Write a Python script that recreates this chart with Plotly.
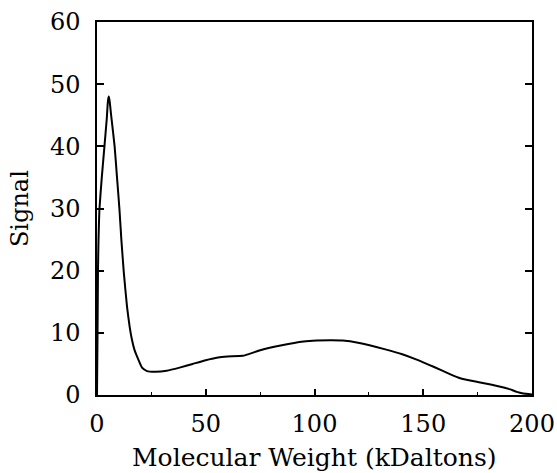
import plotly.graph_objects as go

# Molecular weight distribution (kDa) vs detector signal
mw_kda = [0, 0.25, 0.45, 0.7, 1.1, 2.2, 3.4, 4.5, 5.0, 5.4, 5.8, 6.5, 8.1,
          9.2, 10.3, 11.2, 12.3, 13.8, 15.0, 16.1, 17.2, 18.4, 20.7, 23, 27,
          32, 38, 44, 50, 55, 60, 67, 75, 85, 95, 101, 108, 113, 120, 133,
          140, 147, 155, 162, 167, 175, 181, 187, 190, 193, 196, 200]
signal = [0, 10, 20, 25, 29.8, 35, 39.9, 44.5, 47.2, 48, 47.3, 45, 40,
          35, 30, 25, 19.8, 14.2, 11, 8.85, 7.3, 6.2, 4.4, 3.85, 3.75,
          3.9, 4.4, 5.0, 5.6, 6.0, 6.2, 6.3, 7.2, 8.0, 8.6, 8.75, 8.8, 8.75, 8.4, 7.3,
          6.6, 5.7, 4.5, 3.4, 2.7, 2.1, 1.7, 1.2, 0.9, 0.5, 0.25, 0.1]

x_ticks = [0, 50, 100, 150, 200]
y_ticks = [0, 10, 20, 30, 40, 50, 60]

FONT = "DejaVu Serif"
SIZE = 24

fig = go.Figure(
    go.Scatter(
        x=mw_kda, y=signal, mode="lines",
        line=dict(color="black", width=2, shape="spline", smoothing=0.4),
        showlegend=False,
    )
)

fig.update_layout(
    width=557, height=473,
    margin=dict(l=97, r=25, t=22, b=78, autoexpand=False),
    paper_bgcolor="white", plot_bgcolor="white",
    font=dict(family=FONT, size=SIZE, color="black"),
)

fig.update_xaxes(
    range=[0, 200], tickvals=x_ticks, ticktext=[str(v) for v in x_ticks],
    showgrid=False, zeroline=False, automargin=False,
    showline=True, linecolor="black", linewidth=1.5, mirror=True,
    ticks="inside", ticklen=6, tickwidth=1.5, tickcolor="black",
    minor=dict(ticks="inside", dtick=25, ticklen=3, tickwidth=1.2, tickcolor="black", showgrid=False),
    ticklabelstandoff=6,
    tickfont=dict(family=FONT, size=SIZE),
)

fig.update_yaxes(
    range=[0, 60], tickvals=y_ticks, ticktext=[str(v) for v in y_ticks],
    showgrid=False, zeroline=False, automargin=False,
    showline=True, linecolor="black", linewidth=1.5, mirror="ticks",
    ticks="inside", ticklen=7, tickwidth=1.5, tickcolor="black",
    ticklabelstandoff=10,
    tickfont=dict(family=FONT, size=SIZE),
)

# Axis labels as annotations so they sit at fixed offsets from the frame
fig.add_annotation(
    text="Molecular Weight (kDaltons)", showarrow=False,
    xref="paper", yref="paper", x=0.5, y=-0.168,
    xanchor="center", yanchor="middle",
    font=dict(family=FONT, size=25, color="black"),
)
fig.add_annotation(
    text="Signal", textangle=-90, showarrow=False,
    xref="paper", yref="paper", x=-0.178, y=0.5,
    xanchor="center", yanchor="middle",
    font=dict(family=FONT, size=SIZE, color="black"),
)

fig.write_html("out.html")
